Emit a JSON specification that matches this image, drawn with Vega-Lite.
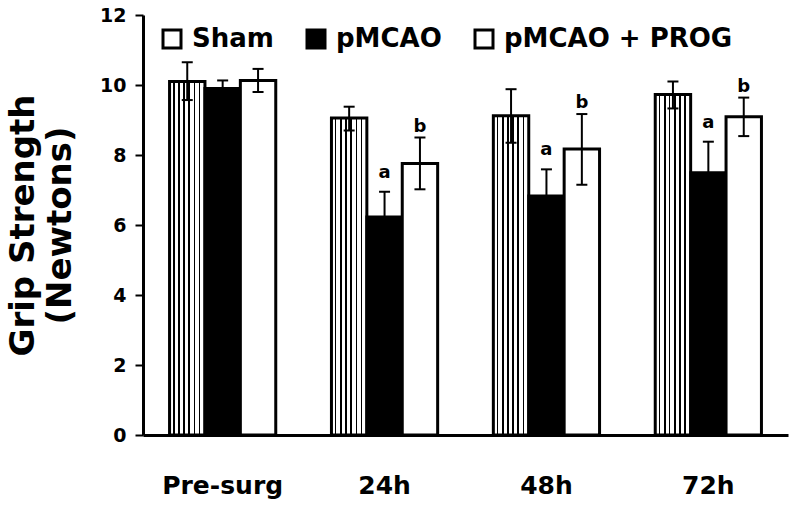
{
  "$schema": "https://vega.github.io/schema/vega-lite/v6.json",
  "width": 645,
  "height": 420,
  "autosize": {"type": "none"},
  "padding": {"left": 143, "top": 15, "right": 12, "bottom": 70},
  "config": {"view": {"stroke": null}, "font": "DejaVu Sans"},
  "data": {
    "values": [
      {"time": "Pre-surg", "group": "Sham", "mean": 10.1, "lo": 9.57, "hi": 10.65, "sig": ""},
      {"time": "Pre-surg", "group": "pMCAO", "mean": 9.9, "lo": 9.67, "hi": 10.13, "sig": ""},
      {"time": "Pre-surg", "group": "pMCAO + PROG", "mean": 10.13, "lo": 9.8, "hi": 10.46, "sig": ""},
      {"time": "24h", "group": "Sham", "mean": 9.06, "lo": 8.7, "hi": 9.38, "sig": ""},
      {"time": "24h", "group": "pMCAO", "mean": 6.23, "lo": 5.5, "hi": 6.95, "sig": "a"},
      {"time": "24h", "group": "pMCAO + PROG", "mean": 7.76, "lo": 7.02, "hi": 8.5, "sig": "b"},
      {"time": "48h", "group": "Sham", "mean": 9.12, "lo": 8.35, "hi": 9.88, "sig": ""},
      {"time": "48h", "group": "pMCAO", "mean": 6.83, "lo": 6.07, "hi": 7.59, "sig": "a"},
      {"time": "48h", "group": "pMCAO + PROG", "mean": 8.17, "lo": 7.15, "hi": 9.17, "sig": "b"},
      {"time": "72h", "group": "Sham", "mean": 9.73, "lo": 9.33, "hi": 10.1, "sig": ""},
      {"time": "72h", "group": "pMCAO", "mean": 7.49, "lo": 6.6, "hi": 8.38, "sig": "a"},
      {"time": "72h", "group": "pMCAO + PROG", "mean": 9.09, "lo": 8.54, "hi": 9.64, "sig": "b"}
    ]
  },
  "encoding": {
    "x": {
      "field": "time",
      "type": "nominal",
      "sort": ["Pre-surg", "24h", "48h", "72h"],
      "scale": {"paddingInner": 0.344, "paddingOuter": 0.164},
      "axis": {
        "title": null,
        "labelAngle": 0,
        "ticks": false,
        "domainColor": "black",
        "domainWidth": 3,
        "labelFont": "DejaVu Sans",
        "labelFontSize": 25,
        "labelFontWeight": "bold",
        "labelColor": "black",
        "labelPadding": 38
      }
    },
    "xOffset": {
      "field": "group",
      "type": "nominal",
      "sort": ["Sham", "pMCAO", "pMCAO + PROG"],
      "scale": {"paddingInner": 0, "paddingOuter": 0}
    }
  },
  "layer": [
    {
      "mark": {"type": "bar", "stroke": "black", "strokeWidth": 3, "opacity": 1},
      "encoding": {
        "y": {
          "field": "mean",
          "type": "quantitative",
          "scale": {"domain": [0, 12], "nice": false},
          "axis": {
            "values": [0, 2, 4, 6, 8, 10, 12],
            "grid": false,
            "domainColor": "black",
            "domainWidth": 3,
            "tickColor": "black",
            "tickSize": 8,
            "tickWidth": 2,
            "labelFont": "DejaVu Sans",
            "labelFontSize": 19,
            "labelFontWeight": "bold",
            "labelColor": "black",
            "labelPadding": 9,
            "title": ["Grip Strength", "(Newtons)"],
            "titleFont": "DejaVu Sans",
            "titleFontSize": 34,
            "titleFontWeight": "bold",
            "titleColor": "black",
            "titleAngle": 270,
            "titleBaseline": "top",
            "titleAlign": "center",
            "titleLineHeight": 37,
            "titleX": -137,
            "titleY": 210
          }
        },
        "fill": {
          "condition": {
            "test": "datum.group === 'Sham'",
            "value": {
              "gradient": "linear",
              "x1": 0, "y1": 0, "x2": 1, "y2": 0,
              "stops": [
                {"offset": 0, "color": "white"},
                {"offset": 0.1, "color": "white"},
                {"offset": 0.1, "color": "black"},
                {"offset": 0.14, "color": "black"},
                {"offset": 0.14, "color": "white"},
                {"offset": 0.25, "color": "white"},
                {"offset": 0.25, "color": "black"},
                {"offset": 0.29, "color": "black"},
                {"offset": 0.29, "color": "white"},
                {"offset": 0.39, "color": "white"},
                {"offset": 0.39, "color": "black"},
                {"offset": 0.43, "color": "black"},
                {"offset": 0.43, "color": "white"},
                {"offset": 0.535, "color": "white"},
                {"offset": 0.535, "color": "black"},
                {"offset": 0.575, "color": "black"},
                {"offset": 0.575, "color": "white"},
                {"offset": 0.68, "color": "white"},
                {"offset": 0.68, "color": "black"},
                {"offset": 0.72, "color": "black"},
                {"offset": 0.72, "color": "white"},
                {"offset": 0.825, "color": "white"},
                {"offset": 0.825, "color": "black"},
                {"offset": 0.865, "color": "black"},
                {"offset": 0.865, "color": "white"},
                {"offset": 1, "color": "white"}
              ]
            }
          },
          "field": "group",
          "type": "nominal",
          "sort": ["Sham", "pMCAO", "pMCAO + PROG"],
          "scale": {
            "domain": ["Sham", "pMCAO", "pMCAO + PROG"],
            "range": ["white", "black", "white"]
          },
          "legend": {
            "orient": "none",
            "legendX": 16,
            "legendY": 11,
            "direction": "horizontal",
            "title": null,
            "padding": 0,
            "symbolType": "square",
            "symbolSize": 324,
            "symbolStrokeColor": "black",
            "symbolStrokeWidth": 3,
            "symbolOpacity": 1,
            "labelFont": "DejaVu Sans",
            "labelFontSize": 26,
            "labelFontWeight": "bold",
            "labelColor": "black",
            "labelOffset": 7,
            "labelLimit": 400,
            "columnPadding": 27,
            "encode": {
              "symbols": {
                "update": {
                  "stroke": {"value": "black"},
                  "strokeWidth": {"value": 3},
                  "opacity": {"value": 1},
                  "fill": {
                    "signal": "datum.value === 'Sham' ? {gradient: 'linear', x1: 0, y1: 0, x2: 1, y2: 0, stops: [{offset: 0, color: 'white'}, {offset: 0.22, color: 'white'}, {offset: 0.22, color: 'black'}, {offset: 0.32, color: 'black'}, {offset: 0.32, color: 'white'}, {offset: 0.45, color: 'white'}, {offset: 0.45, color: 'black'}, {offset: 0.55, color: 'black'}, {offset: 0.55, color: 'white'}, {offset: 0.68, color: 'white'}, {offset: 0.68, color: 'black'}, {offset: 0.78, color: 'black'}, {offset: 0.78, color: 'white'}, {offset: 1, color: 'white'}]} : (datum.value === 'pMCAO' ? 'black' : 'white')"
                  }
                }
              }
            }
          }
        }
      }
    },
    {
      "mark": {"type": "rule", "strokeWidth": 2, "color": "black"},
      "encoding": {
        "y": {"field": "lo", "type": "quantitative"},
        "y2": {"field": "hi"}
      }
    },
    {
      "mark": {"type": "tick", "size": 11, "thickness": 2, "color": "black", "opacity": 1},
      "encoding": {"y": {"field": "hi", "type": "quantitative"}}
    },
    {
      "mark": {"type": "tick", "size": 11, "thickness": 2, "color": "black", "opacity": 1},
      "encoding": {"y": {"field": "lo", "type": "quantitative"}}
    },
    {
      "transform": [{"filter": "datum.sig === 'a'"}],
      "mark": {"type": "text", "font": "DejaVu Sans", "fontSize": 18, "fontWeight": "bold", "color": "black", "baseline": "alphabetic", "dy": -14},
      "encoding": {
        "y": {"field": "hi", "type": "quantitative"},
        "text": {"field": "sig"}
      }
    },
    {
      "transform": [{"filter": "datum.sig === 'b'"}],
      "mark": {"type": "text", "font": "DejaVu Sans", "fontSize": 18, "fontWeight": "bold", "color": "black", "baseline": "alphabetic", "dy": -6},
      "encoding": {
        "y": {"field": "hi", "type": "quantitative"},
        "text": {"field": "sig"}
      }
    }
  ]
}
